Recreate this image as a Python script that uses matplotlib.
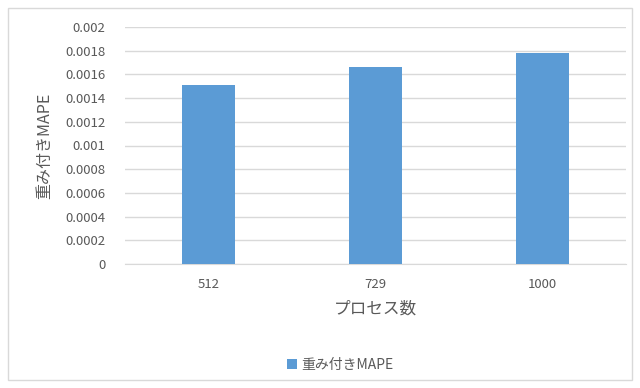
import matplotlib.pyplot as plt
from matplotlib.patches import Rectangle

plt.rcParams['font.family'] = ['Noto Sans CJK JP', 'DejaVu Sans']

processes = ['512', '729', '1000']
weighted_mape = [0.00151, 0.00166, 0.00178]
y_ticks = [0, 0.0002, 0.0004, 0.0006, 0.0008, 0.001, 0.0012,
           0.0014, 0.0016, 0.0018, 0.002]
y_tick_labels = ['0', '0.0002', '0.0004', '0.0006', '0.0008', '0.001',
                 '0.0012', '0.0014', '0.0016', '0.0018', '0.002']

text_color = '#595959'
bar_color = '#5b9bd5'

fig = plt.figure(figsize=(6.4, 3.88), dpi=100)
ax = fig.add_axes([125 / 640, 1 - 264 / 388, 501 / 640, 237 / 388])

x = range(len(processes))
ax.bar(x, weighted_mape, width=0.32, color=bar_color, zorder=3,
       label='重み付きMAPE')

ax.set_xlim(-0.5, 2.5)
ax.set_ylim(0, 0.002)
ax.set_xticks(list(x))
ax.set_xticklabels(processes)
ax.set_yticks(y_ticks)
ax.set_yticklabels(y_tick_labels)
ax.tick_params(axis='both', length=0, labelsize=9.5, colors=text_color)
ax.tick_params(axis='x', pad=10)
ax.tick_params(axis='y', pad=14)
ax.grid(axis='y', color='#d9d9d9', linewidth=1, zorder=0)

for side in ['top', 'left', 'right']:
    ax.spines[side].set_visible(False)
ax.spines['bottom'].set_color('#d9d9d9')

ax.set_xlabel('プロセス数', fontsize=12, color=text_color, labelpad=7)
ax.set_ylabel('重み付きMAPE', fontsize=11.5, color=text_color, labelpad=9)

fig.legend(loc='center', bbox_to_anchor=(340 / 640, 1 - 365 / 388),
           frameon=False, fontsize=10, handlelength=0.7, handleheight=0.7,
           handletextpad=0.3, labelcolor=text_color)

fig.patches.append(Rectangle((8 / 640, 8 / 388), 624 / 640, 372 / 388,
                             transform=fig.transFigure, fill=False,
                             edgecolor='#d9d9d9', linewidth=1))

fig.savefig('out.png', dpi=100)
